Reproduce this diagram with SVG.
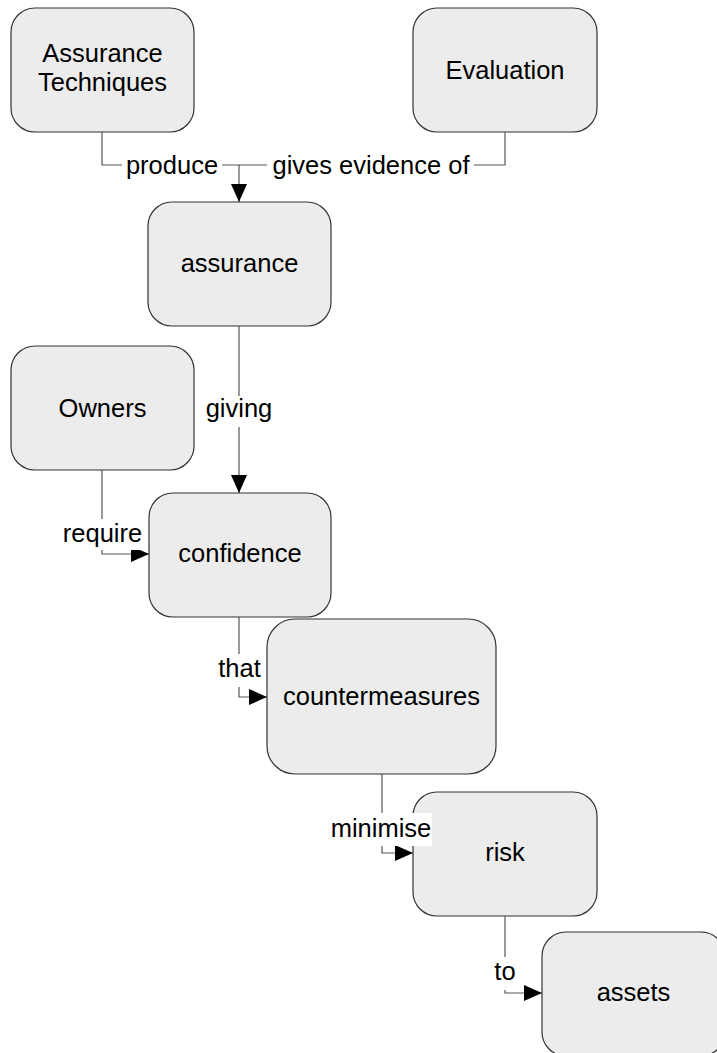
<svg xmlns="http://www.w3.org/2000/svg" width="717" height="1053" viewBox="0 0 717 1053">
  <style>
    .box { fill: #ececec; stroke: #333; stroke-width: 1.2; }
    .txt { font-family: "Liberation Sans", Arial, sans-serif; font-size: 25.5px; fill: #000; text-anchor: middle; }
    .edge { fill: none; stroke: #555; stroke-width: 1.2; }
    .lblbg { fill: #fff; }
  </style>
  <defs>
    <marker id="arrow" markerUnits="userSpaceOnUse" markerWidth="18" markerHeight="16" refX="18" refY="8" orient="auto">
      <path d="M0,0 L18,8 L0,16 z" fill="#000"/>
    </marker>
  </defs>

  <!-- concept nodes -->
  <g id="node-techniques">
    <rect class="box" x="11" y="8" width="183" height="124" rx="24"/>
    <text class="txt" x="102.5" y="61.5">Assurance</text>
    <text class="txt" x="102.5" y="90.5">Techniques</text>
  </g>
  <g id="node-evaluation">
    <rect class="box" x="413" y="8" width="184" height="124" rx="24"/>
    <text class="txt" x="505" y="78.5">Evaluation</text>
  </g>
  <g id="node-assurance">
    <rect class="box" x="148" y="202" width="183" height="124" rx="24"/>
    <text class="txt" x="239.5" y="272">assurance</text>
  </g>
  <g id="node-owners">
    <rect class="box" x="11" y="346" width="183" height="124" rx="24"/>
    <text class="txt" x="102.5" y="416.7">Owners</text>
  </g>
  <g id="node-confidence">
    <rect class="box" x="149" y="493" width="182" height="124" rx="24"/>
    <text class="txt" x="240" y="562">confidence</text>
  </g>
  <g id="node-countermeasures">
    <rect class="box" x="267" y="619" width="229" height="155" rx="28"/>
    <text class="txt" x="381.5" y="704.5">countermeasures</text>
  </g>
  <g id="node-risk">
    <rect class="box" x="413" y="792" width="184" height="124" rx="24"/>
    <text class="txt" x="505" y="861">risk</text>
  </g>
  <g id="node-assets">
    <rect class="box" x="542" y="932" width="183" height="124" rx="24"/>
    <text class="txt" x="633.5" y="1000.5">assets</text>
  </g>

  <!-- relations with their labels -->
  <g id="connectors">
    <path class="edge" d="M102,132 V165 H239 V202" marker-end="url(#arrow)"/>
    <path class="edge" d="M505,132 V165 H239"/>
    <path class="edge" d="M239,326 V493" marker-end="url(#arrow)"/>
    <path class="edge" d="M102,470 V554 H149" marker-end="url(#arrow)"/>
    <path class="edge" d="M239,617 V697 H267" marker-end="url(#arrow)"/>
    <path class="edge" d="M382,774 V853 H413" marker-end="url(#arrow)"/>
    <path class="edge" d="M505,916 V993 H542" marker-end="url(#arrow)"/>

    <rect class="lblbg" x="122" y="150" width="100" height="32"/>
    <text class="txt" x="172" y="173.5">produce</text>
    <rect class="lblbg" x="267" y="150" width="207" height="32"/>
    <text class="txt" x="371" y="173.5">gives evidence of</text>
    <rect class="lblbg" x="203" y="396" width="72" height="31"/>
    <text class="txt" x="239" y="417">giving</text>
    <rect class="lblbg" x="59" y="519" width="87" height="31"/>
    <text class="txt" x="102.5" y="542">require</text>
    <rect class="lblbg" x="214" y="654" width="51" height="33"/>
    <text class="txt" x="239.5" y="677">that</text>
    <rect class="lblbg" x="330" y="813" width="102" height="33"/>
    <text class="txt" x="381" y="836.7">minimise</text>
    <rect class="lblbg" x="490" y="957" width="30" height="33"/>
    <text class="txt" x="505" y="980">to</text>
  </g>
</svg>
